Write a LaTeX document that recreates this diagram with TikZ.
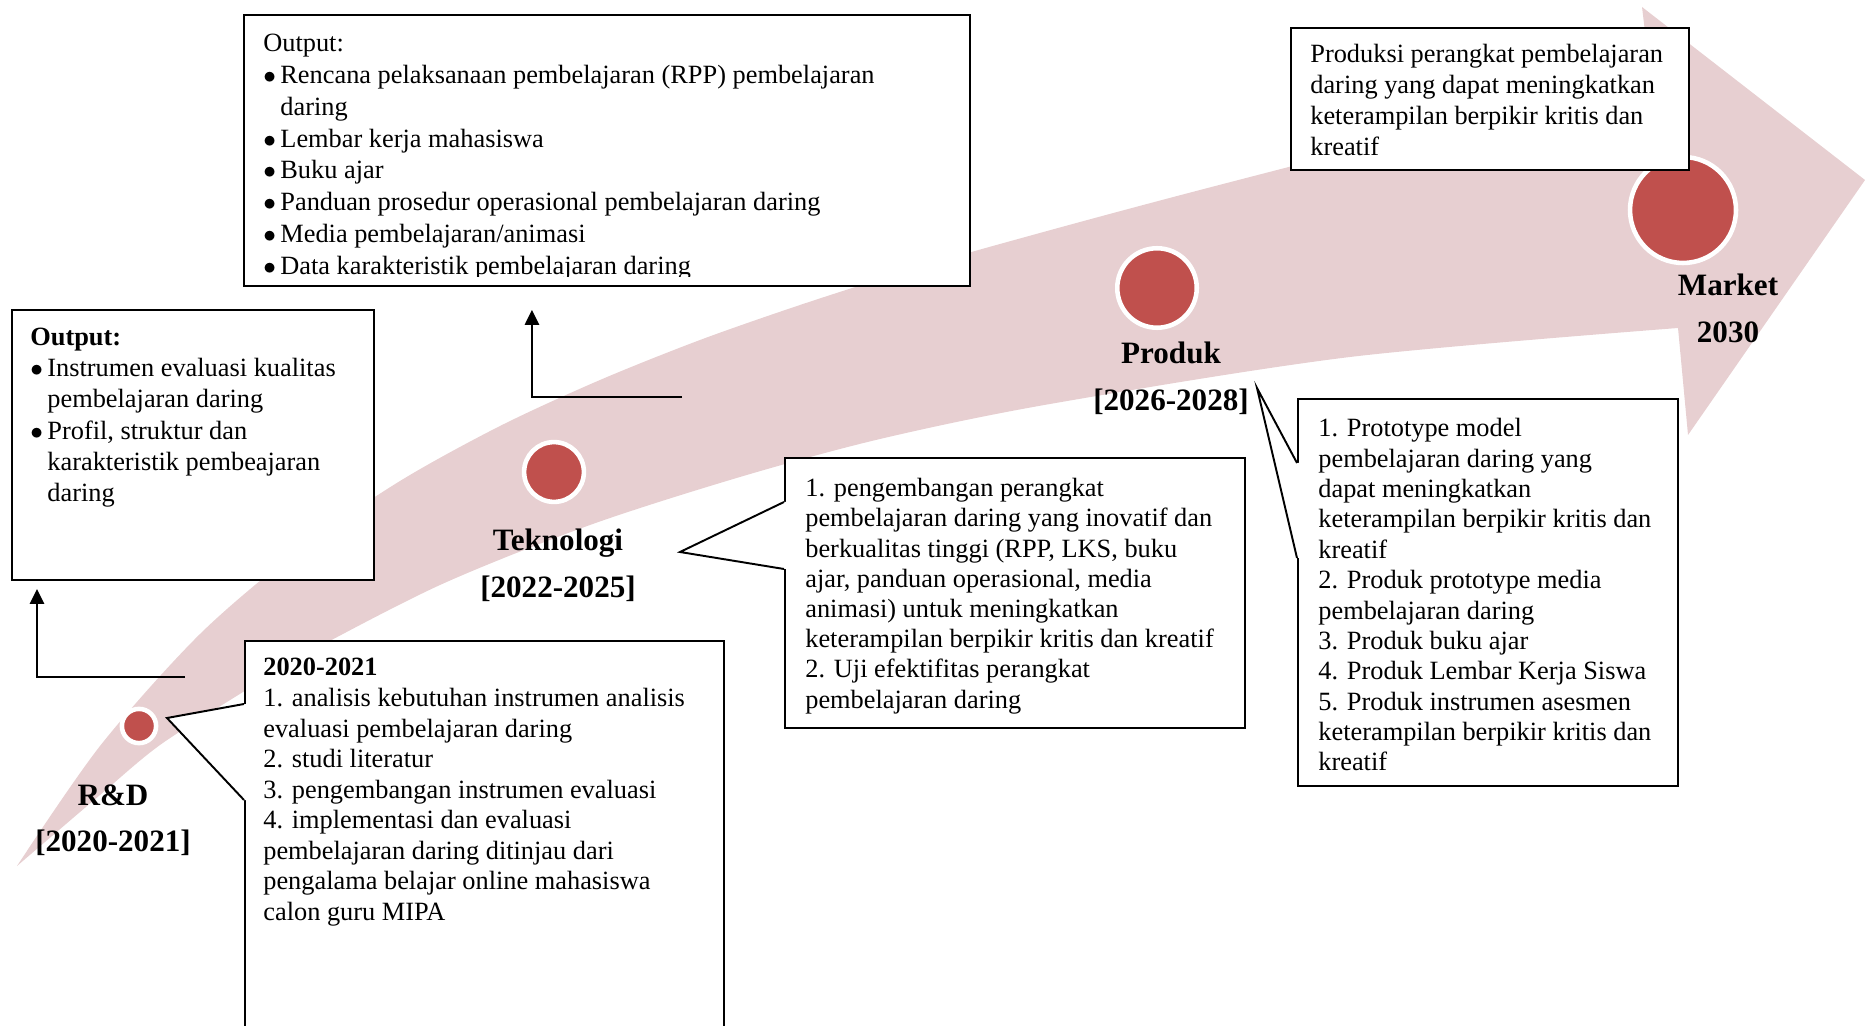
\documentclass[tikz,border=0pt]{standalone}
\usepackage{fontspec}
\setmainfont{Liberation Serif}
\usetikzlibrary{arrows.meta}
\definecolor{bandpink}{RGB}{231,207,209}
\definecolor{dotred}{RGB}{192,80,77}

\begin{document}
\begin{tikzpicture}[x=0.02cm, y=-0.02cm,
    dot/.style={circle, fill=dotred, draw=white, line width=2.6pt, inner sep=0},
    phase/.style={font=\fontsize{17.7}{26.6}\selectfont\bfseries, align=center, anchor=north, inner sep=0},
    box/.style={draw, fill=white, line width=1.1pt, anchor=north west, inner sep=0},
    txt/.style={font=\fontsize{15}{17.3}\selectfont, align=left, anchor=north west, inner sep=0},
    call/.style={line width=1.1pt},
    conn/.style={line width=1.5pt, -{Triangle[width=0.28cm,length=0.3cm]}}]
\useasboundingbox (0,0) rectangle (1865,1026);
\clip (0,0) rectangle (1865,1026);

%big arrow
\fill[bandpink] plot[smooth] coordinates {(17,866) (100,746) (200,634) (300,549) (400,481) (500,426) (600,380) (700,340) (800,305) (900,273) (1000,244) (1200,190) (1650,74)}
    -- (1642,7) -- (1865,180) -- (1688,435) -- (1678,328)
    -- plot[smooth] coordinates {(1678,328) (1350,357) (1050,404) (880,439) (740,477) (590,525) (440,585) (300,657) (243,692) (160,745) (100,795) (17,866)} -- cycle;

%phases
\node[dot, minimum size=0.684cm] (rd) at (139,726) {};
\node[dot, minimum size=1.196cm] (tek) at (554,472) {};
\node[dot, minimum size=1.59cm] (prod) at (1157,288) {};
\node[dot, minimum size=2.12cm] (mkt) at (1683,210) {};
\node[phase] (rdlab) at (113,784) {R\&D\\{[2020-2021]}};
\node[phase] (teklab) at (558,529) {Teknologi\\{[2022-2025]}};
\node[phase] (prodlab) at (1171,342) {Produk\\{[2026-2028]}};
\node[phase] (mktlab) at (1728,274) {Market\\2030};

%output boxes
\node[box, minimum width=14.52cm, minimum height=5.42cm] (outtek) at (243,14) {};
\begin{scope}
    \clip (243,14) rectangle (969,277);
    \node[txt, font=\fontsize{15}{18.1}\selectfont] (outtektxt) at (263,34) {Output:\\
        $\bullet$\,Rencana pelaksanaan pembelajaran (RPP) pembelajaran\\
        \phantom{$\bullet$\,}daring\\
        $\bullet$\,Lembar kerja mahasiswa\\
        $\bullet$\,Buku ajar\\
        $\bullet$\,Panduan prosedur operasional pembelajaran daring\\
        $\bullet$\,Media pembelajaran/animasi\\
        $\bullet$\,Data karakteristik pembelajaran daring};
\end{scope}
\node[box, minimum width=7.24cm, minimum height=5.4cm] (outrd) at (11,309) {};
\node[txt, font=\fontsize{15}{17.7}\selectfont] (outrdtxt) at (30,328) {\textbf{Output:}\\
    $\bullet$\,Instrumen evaluasi kualitas\\
    \phantom{$\bullet$\,}pembelajaran daring\\
    $\bullet$\,Profil, struktur dan\\
    \phantom{$\bullet$\,}karakteristik pembeajaran\\
    \phantom{$\bullet$\,}daring};
\node[box, minimum width=7.96cm, minimum height=2.84cm] (outmkt) at (1290,27) {};
\node[txt, font=\fontsize{15}{17.7}\selectfont] (outmkttxt) at (1310,44) {Produksi perangkat pembelajaran\\
    daring yang dapat meningkatkan\\
    keterampilan berpikir kritis dan\\
    kreatif};

%callouts
\node[box, minimum width=9.58cm, minimum height=8cm] (rdbox) at (244,640) {};
\coordinate (rdtip) at (167,718);
\fill[white] (244,704) -- (rdtip) -- (244,800) -- (249,800) -- (249,704) -- cycle;
\draw[call] (244,704) -- (rdtip) -- (244,800);
\node[txt, font=\fontsize{15}{17.4}\selectfont] (rdtxt) at (263,658) {\textbf{2020-2021}\\
    1. analisis kebutuhan instrumen analisis\\
    evaluasi pembelajaran daring\\
    2. studi literatur\\
    3. pengembangan instrumen evaluasi\\
    4. implementasi dan evaluasi\\
    pembelajaran daring ditinjau dari\\
    pengalama belajar online mahasiswa\\
    calon guru MIPA};

\node[box, minimum width=9.2cm, minimum height=5.4cm] (tekbox) at (784,457) {};
\coordinate (tektip) at (680,552);
\fill[white] (784,502) -- (tektip) -- (784,569) -- (789,569) -- (789,502) -- cycle;
\draw[call] (784,502) -- (tektip) -- (784,569);
\node[txt, font=\fontsize{15}{17.2}\selectfont] (tektxt) at (805,478) {1. pengembangan perangkat\\
    pembelajaran daring yang inovatif dan\\
    berkualitas tinggi (RPP, LKS, buku\\
    ajar, panduan operasional, media\\
    animasi) untuk meningkatkan\\
    keterampilan berpikir kritis dan kreatif\\
    2. Uji efektifitas perangkat\\
    pembelajaran daring};

\node[box, minimum width=7.6cm, minimum height=7.74cm] (prodbox) at (1297,398) {};
\coordinate (prodtip) at (1257,388);
\fill[white] (1297,463) -- (prodtip) -- (1297,558) -- (1302,558) -- (1302,463) -- cycle;
\draw[call] (1297,463) -- (prodtip) -- (1297,558);
\node[txt] (prodtxt) at (1318,418) {1. Prototype model\\
    pembelajaran daring yang\\
    dapat meningkatkan\\
    keterampilan berpikir kritis dan\\
    kreatif\\
    2. Produk prototype media\\
    pembelajaran daring\\
    3. Produk buku ajar\\
    4. Produk Lembar Kerja Siswa\\
    5. Produk instrumen asesmen\\
    keterampilan berpikir kritis dan\\
    kreatif};

%arrows to outputs
\coordinate (rdL) at (185,677);
\draw[conn] (rdL) -| ([xshift=0.52cm,yshift=-0.16cm]outrd.south west);
\coordinate (tekL) at (682,397);
\draw[conn] (tekL) -| ([xshift=5.78cm,yshift=-0.46cm]outtek.south west);
\end{tikzpicture}
\end{document}
